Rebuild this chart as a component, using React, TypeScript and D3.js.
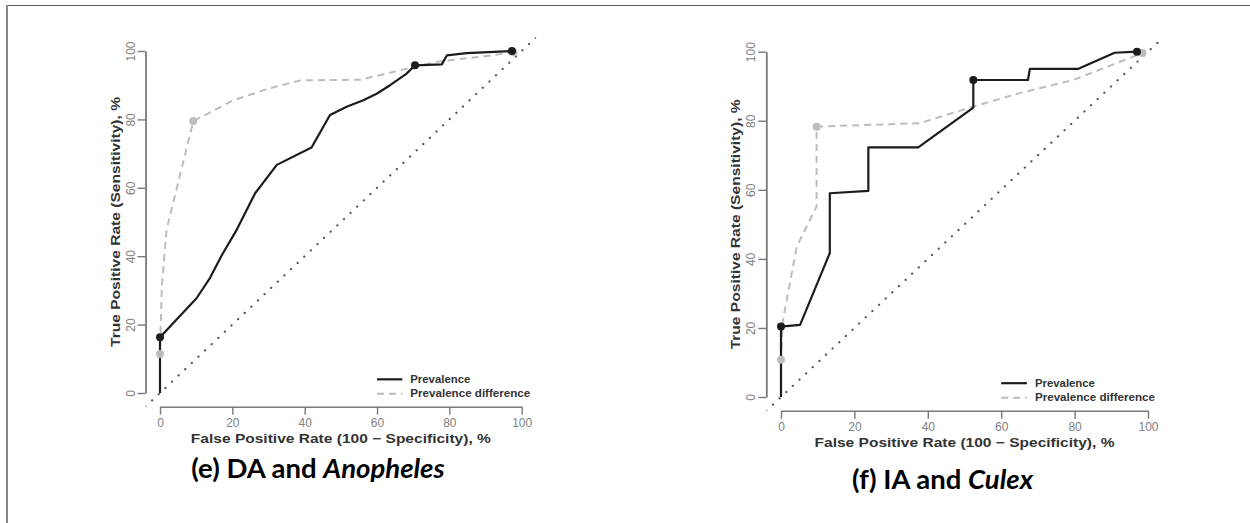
import React from "react";
import * as d3 from "d3";

// tick values used on both axes
const axisTicks = [0, 20, 40, 60, 80, 100];

// (e) DA and Anopheles
const prevAnophelesFpr = [0, 0, 10.1, 13.8, 17.2, 21.2, 26.3, 32.3, 41.9, 47, 51.6, 56.2, 59.9, 63.6, 68.2, 70.5, 77.9, 79.3, 84.8, 97.3];
const prevAnophelesTpr = [0, 16.3, 27.7, 33.6, 40.5, 47.7, 58.4, 66.7, 71.8, 81.3, 83.7, 85.6, 87.5, 90, 93.4, 95.8, 96.1, 98.7, 99.4, 100];
const diffAnophelesFpr = [0, 0, 0.5, 1.8, 9.2, 20.3, 30, 38.7, 46, 55.3, 62.7, 70, 77.4, 89.4, 97.7];
const diffAnophelesTpr = [0, 11.4, 31, 47.7, 79.5, 85.6, 89, 91.4, 91.5, 91.6, 93.4, 95.3, 97, 98.4, 99.6];
const prevAnophelesMarks = [[0, 16.3], [70.5, 95.8], [97.3, 100]];
const diffAnophelesMarks = [[0, 11.4], [9.2, 79.5], [97.7, 99.6]];

// (f) IA and Culex
const prevCulexFpr = [0, 0, 5.2, 13.3, 13.3, 23.8, 23.8, 37.4, 52.4, 52.4, 67.3, 67.8, 80.9, 90.9, 97];
const prevCulexTpr = [0, 20.4, 20.9, 41.7, 59, 59.7, 72.3, 72.3, 83.8, 91.8, 91.8, 95, 95, 99.7, 100];
const diffCulexFpr = [0, 0, 0.5, 4.3, 9.7, 9.7, 37.8, 52.4, 65, 79.6, 98.5];
const diffCulexTpr = [0, 10.8, 22, 43.6, 55.2, 78.3, 79.3, 84.1, 88, 91.8, 99.6];
const prevCulexMarks = [[0, 20.4], [52.4, 91.8], [97, 100]];
const diffCulexMarks = [[0, 10.8], [9.7, 78.3], [98.5, 99.6]];

const legendLabels = ["Prevalence", "Prevalence difference"];
const xTitle = "False Positive Rate (100 \u2212 Specificity), %";
const yTitle = "True Positive Rate (Sensitivity), %";

const BLACK = "#1c1c1c";
const GREY = "#bdbdbd";
const AXIS = "#7a7a7a";
const FONT = "Liberation Sans, Arial, sans-serif";

type Box = { x0: number; x1: number; y0: number; y1: number };

const drawPanel = (
  root: any,
  box: Box,
  prev: { fpr: number[]; tpr: number[]; marks: number[][] },
  diff: { fpr: number[]; tpr: number[]; marks: number[][] },
  clipId: string
) => {
  const x = d3.scaleLinear().domain([0, 100]).range([box.x0, box.x1]);
  const y = d3.scaleLinear().domain([0, 100]).range([box.y0, box.y1]);
  const g = root.append("g");

  // clip to plot region (R style, 4% extension)
  g.append("clipPath")
    .attr("id", clipId)
    .append("rect")
    .attr("x", x(-4))
    .attr("y", y(104))
    .attr("width", x(104) - x(-4))
    .attr("height", y(-4) - y(104));

  // x axis
  const xAxis = d3.axisBottom(x).tickValues(axisTicks).tickSize(8).tickSizeOuter(0).tickPadding(4);
  const xg = g.append("g").attr("transform", `translate(0,${y(-4)})`).call(xAxis);
  xg.select(".domain").attr("stroke", AXIS).attr("stroke-width", 1.4);
  xg.selectAll(".tick line").attr("stroke", AXIS).attr("stroke-width", 1.4);
  xg.selectAll(".tick text")
    .attr("fill", "#808080")
    .attr("font-size", 12)
    .attr("font-family", FONT);

  // y axis, labels turned like R's default
  const yAxis = d3.axisLeft(y).tickValues(axisTicks).tickSize(8).tickSizeOuter(0);
  const yg = g.append("g").attr("transform", `translate(${x(-4)},0)`).call(yAxis);
  yg.select(".domain").attr("stroke", AXIS).attr("stroke-width", 1.8);
  yg.selectAll(".tick line").attr("stroke", AXIS).attr("stroke-width", 1.4);
  yg.selectAll(".tick text")
    .attr("x", null)
    .attr("dy", null)
    .attr("text-anchor", "middle")
    .attr("transform", "translate(-11,0) rotate(-90)")
    .attr("fill", "#808080")
    .attr("font-size", 12)
    .attr("font-family", FONT);

  // titles
  g.append("text")
    .attr("x", (x(0) + x(100)) / 2 - 150)
    .attr("y", y(-4) + 36)
    .attr("textLength", 300)
    .attr("lengthAdjust", "spacingAndGlyphs")
    .attr("font-family", FONT)
    .attr("font-weight", "bold")
    .attr("font-size", 13)
    .attr("fill", "#333")
    .text(xTitle);
  g.append("text")
    .attr("transform", `translate(${x(-4) - 26},${(y(0) + y(100)) / 2}) rotate(-90)`)
    .attr("x", -125)
    .attr("textLength", 250)
    .attr("lengthAdjust", "spacingAndGlyphs")
    .attr("font-family", FONT)
    .attr("font-weight", "bold")
    .attr("font-size", 13)
    .attr("fill", "#333")
    .text(yTitle);

  const plot = g.append("g").attr("clip-path", `url(#${clipId})`);

  // chance diagonal
  plot.append("line")
    .attr("x1", x(-4))
    .attr("y1", y(-4))
    .attr("x2", x(104))
    .attr("y2", y(104))
    .attr("stroke", "#555")
    .attr("stroke-width", 2.2)
    .attr("stroke-linecap", "round")
    .attr("stroke-dasharray", "0.1 9");

  const line = d3.line<[number, number]>();

  plot.append("path")
    .attr("d", line(diff.fpr.map((f, i) => [x(f), y(diff.tpr[i])] as [number, number])))
    .attr("fill", "none")
    .attr("stroke", GREY)
    .attr("stroke-width", 2)
    .attr("stroke-dasharray", "7 5");

  plot.append("path")
    .attr("d", line(prev.fpr.map((f, i) => [x(f), y(prev.tpr[i])] as [number, number])))
    .attr("fill", "none")
    .attr("stroke", BLACK)
    .attr("stroke-width", 2.2)
    .attr("stroke-linejoin", "round");

  plot.selectAll(".dmark")
    .data(diff.marks)
    .enter()
    .append("circle")
    .attr("cx", (d: number[]) => x(d[0]))
    .attr("cy", (d: number[]) => y(d[1]))
    .attr("r", 4)
    .attr("fill", GREY);

  plot.selectAll(".pmark")
    .data(prev.marks)
    .enter()
    .append("circle")
    .attr("cx", (d: number[]) => x(d[0]))
    .attr("cy", (d: number[]) => y(d[1]))
    .attr("r", 4)
    .attr("fill", BLACK);

  // legend
  const legend = g.append("g");
  const styles = [
    { stroke: BLACK, dash: null, width: 2.2, ly: 4, len: 60 },
    { stroke: GREY, dash: "7 5", width: 2, ly: -0.2, len: 120 },
  ];
  styles.forEach((s, i) => {
    legend.append("line")
      .attr("x1", x(60))
      .attr("x2", x(67))
      .attr("y1", y(s.ly))
      .attr("y2", y(s.ly))
      .attr("stroke", s.stroke)
      .attr("stroke-width", s.width)
      .attr("stroke-dasharray", s.dash);
    legend.append("text")
      .attr("x", x(69.2))
      .attr("y", y(s.ly))
      .attr("dy", "0.35em")
      .attr("textLength", s.len)
      .attr("lengthAdjust", "spacingAndGlyphs")
      .attr("font-family", FONT)
      .attr("font-weight", "bold")
      .attr("font-size", 10.5)
      .attr("fill", "#333")
      .text(legendLabels[i]);
  });
};

const App = () => {
  const ref = React.useRef<SVGGElement>(null);

  React.useEffect(() => {
    const root = d3.select(ref.current) as any;
    root.selectAll("*").remove();

    drawPanel(
      root,
      { x0: 160, x1: 521.7, y0: 393, y1: 51 },
      { fpr: prevAnophelesFpr, tpr: prevAnophelesTpr, marks: prevAnophelesMarks },
      { fpr: diffAnophelesFpr, tpr: diffAnophelesTpr, marks: diffAnophelesMarks },
      "clip-e"
    );
    drawPanel(
      root,
      { x0: 781, x1: 1148, y0: 397, y1: 51.7 },
      { fpr: prevCulexFpr, tpr: prevCulexTpr, marks: prevCulexMarks },
      { fpr: diffCulexFpr, tpr: diffCulexTpr, marks: diffCulexMarks },
      "clip-f"
    );
  }, []);

  const captionStyle = {
    fontFamily: "Lato, 'Open Sans', sans-serif",
    fontWeight: 700,
    fontSize: 27.5,
  };

  return (
    <svg
      width={1250}
      height={523}
      style={{ position: "absolute", left: 0, top: 0, background: "#fff" }}
    >
      {/* frame lines of the figure */}
      <line x1={6} x2={1250} y1={5.5} y2={5.5} stroke="#555" strokeWidth={1} />
      <line x1={7} x2={7} y1={5} y2={523} stroke="#888" strokeWidth={2} />
      <g ref={ref} />
      <text x={318} y={478} textAnchor="middle" style={captionStyle}>
        (e) DA and <tspan fontStyle="italic">Anopheles</tspan>
      </text>
      <text x={942.5} y={489} textAnchor="middle" style={captionStyle}>
        (f) IA and <tspan fontStyle="italic">Culex</tspan>
      </text>
    </svg>
  );
};

export default App;
